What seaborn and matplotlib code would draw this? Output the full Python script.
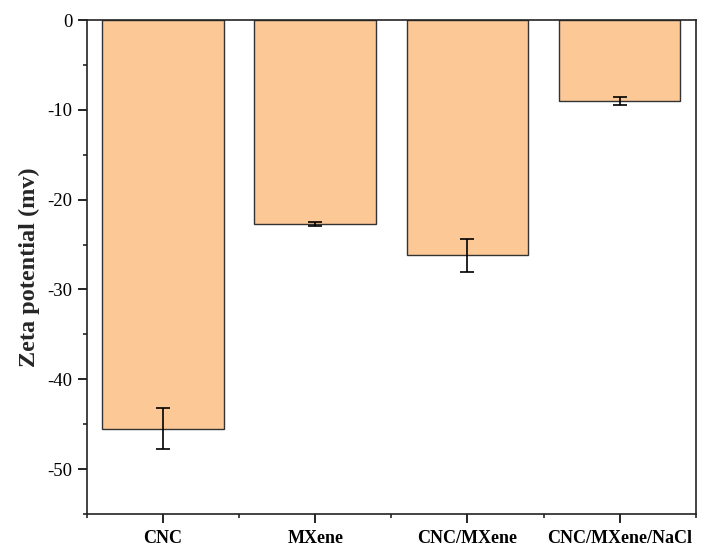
import matplotlib
matplotlib.use("Agg")
import matplotlib.pyplot as plt
import seaborn as sns
import pandas as pd
from matplotlib.ticker import MultipleLocator

samples = ["CNC", "MXene", "CNC/MXene", "CNC/MXene/NaCl"]
zeta = [-45.5, -22.7, -26.2, -9.0]
zeta_err = [2.3, 0.2, 1.8, 0.45]

df = pd.DataFrame({"sample": samples, "zeta": zeta})

sns.set_theme(style="ticks")
plt.rcParams["font.family"] = ["Liberation Serif", "DejaVu Serif"]
plt.rcParams["axes.unicode_minus"] = False

fig = plt.figure(figsize=(7.07, 5.46), dpi=100)
ax = fig.add_axes([0.123, 0.0586, 0.861, 0.9047])

sns.barplot(data=df, x="sample", y="zeta", color="#FCC896", saturation=1,
            width=0.8, edgecolor="#333333", linewidth=1.0, errorbar=None, ax=ax)
ax.errorbar(range(len(samples)), df["zeta"], yerr=zeta_err, fmt="none",
            ecolor="black", elinewidth=1.2, capsize=5, capthick=1.2)

ax.set_ylim(-55, 0)
ax.set_xlim(-0.5, len(samples) - 0.5)
ax.yaxis.set_major_locator(MultipleLocator(10))
ax.yaxis.set_minor_locator(MultipleLocator(5))
ax.xaxis.set_minor_locator(MultipleLocator(0.5))

ax.set_xlabel("")
ax.set_ylabel("Zeta potential (mv)", fontsize=17.5, fontweight="bold", labelpad=5)
ax.tick_params(axis="both", which="major", direction="out", length=6.5,
               width=1.2, labelsize=13, colors="black")
ax.tick_params(axis="both", which="minor", direction="out", length=3,
               width=1.2)
ax.tick_params(axis="x", which="major", pad=5, labelsize=13)
ax.tick_params(axis="y", which="major", pad=4, labelsize=13.5)
for lab in ax.get_xticklabels():
    lab.set_fontweight("bold")

for s in ax.spines.values():
    s.set_visible(True)
    s.set_linewidth(1.2)
    s.set_color("#222222")

fig.savefig("out.png", dpi=100)
